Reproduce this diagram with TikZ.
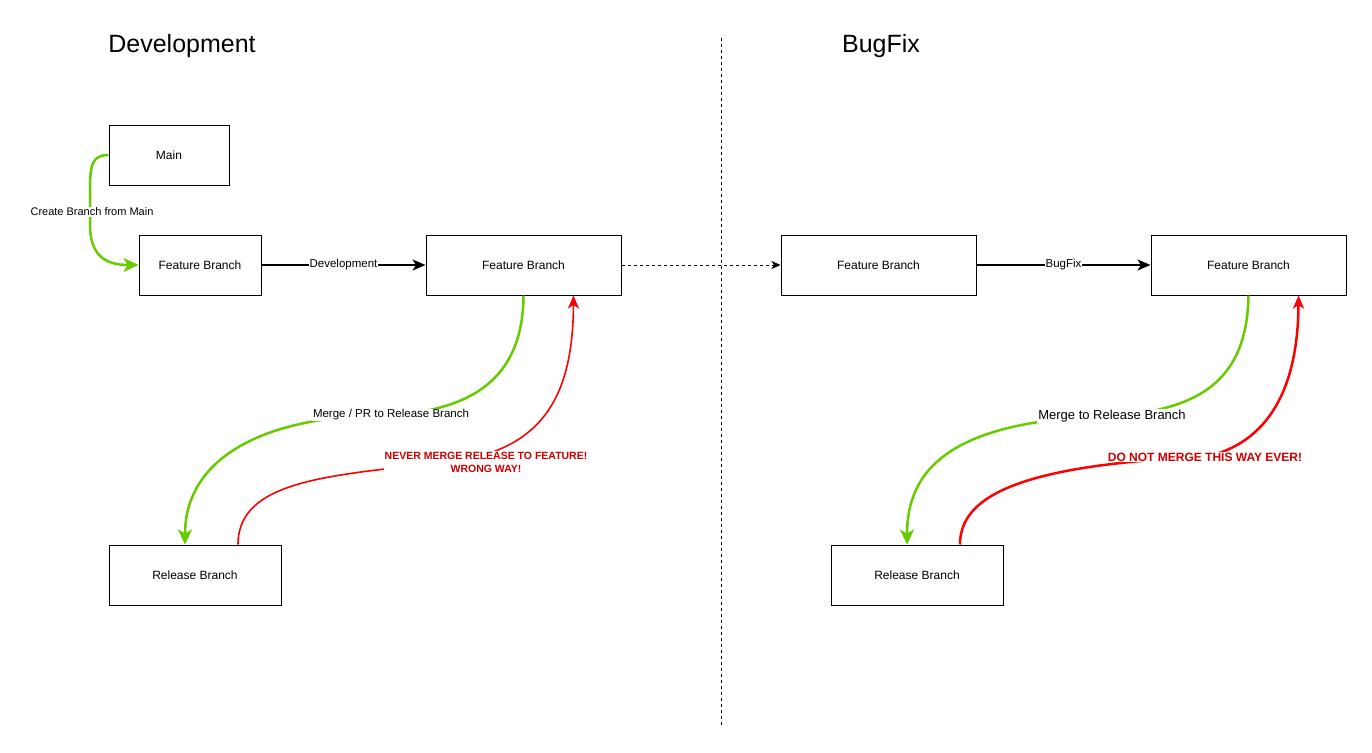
\documentclass[tikz,border=0pt]{standalone}
\usepackage{fontspec}
\setmainfont{Liberation Sans}
\usetikzlibrary{arrows.meta}

\definecolor{okgreen}{HTML}{66CC00}
\definecolor{badred}{HTML}{FF0000}
\definecolor{badtext}{HTML}{CC0000}

\begin{document}
\begin{tikzpicture}[x=1pt, y=-1pt]
    \tikzstyle{branch} = [shape=rectangle, draw, line width=1pt, minimum height=60pt,
                          inner sep=0pt, font=\fontsize{12}{14}\selectfont]
    \tikzstyle{title}  = [font=\fontsize{25}{29}\selectfont]
    \tikzstyle{lbl}    = [fill=white, inner sep=1pt, font=\fontsize{11.5}{13}\selectfont]
    \tikzstyle{warn}   = [fill=white, inner sep=1pt, text=badtext, align=center, font=\bfseries]
    \tikzstyle{good}   = [draw=okgreen, line width=2.5pt, -{Stealth[length=15pt, width=14pt, inset=4pt]}]
    \tikzstyle{bad}    = [draw=badred, -{Stealth[length=13pt, width=11pt, inset=3.5pt]}]
    \tikzstyle{flow}   = [line width=2pt, -{Stealth[length=13pt, width=11pt, inset=3.5pt]}]

    \useasboundingbox (0, 0) rectangle (1372, 752);

    % titles and separator
    \node[title] (devtitle) at (182, 46) {Development};
    \node[title] (fixtitle) at (881, 46) {BugFix};
    \coordinate (septop) at (721, 38);
    \coordinate (sepbot) at (721, 725);
    \draw[line width=0.8pt, dash pattern=on 3pt off 3pt] (septop) -- (sepbot);

    % development side
    \node[branch, minimum width=120pt] (main)  at (169, 155) {Main};
    \node[branch, minimum width=122pt] (feat1) at (200, 265) {Feature Branch};
    \node[branch, minimum width=195pt] (feat2) at (523.5, 265) {Feature Branch};
    \node[branch, minimum width=172pt] (rel1)  at (195, 575) {Release Branch};

    \draw[good] (main.west) .. controls (92, 155) and (90, 165) .. (90, 190)
        -- (90, 225) .. controls (90, 255) and (105, 265) .. (feat1.west);
    \node[lbl, font=\fontsize{11}{13}\selectfont] (createlbl) at (92, 212) {Create Branch from Main};

    \draw[flow] (feat1) -- node[lbl] {Development} (feat2);

    \draw[good] (feat2.south) .. controls (523, 380) and (470, 410) .. (391, 415)
        node[lbl] {Merge / PR to Release Branch}
        .. controls (260, 415) and (185, 460) .. ([xshift=-10pt]rel1.north);

    \draw[bad, line width=1.6pt] ([xshift=43pt]rel1.north) .. controls (238, 480) and (330, 475) .. (450, 462)
        .. controls (540, 450) and (573, 400) .. ([xshift=50pt]feat2.south);
    \node[warn, font=\bfseries\fontsize{10.5}{13}\selectfont] (neverlbl) at (486, 462)
        {NEVER MERGE RELEASE TO FEATURE!\\WRONG WAY!};

    % bugfix side
    \node[branch, minimum width=195pt] (feat3) at (878.5, 265) {Feature Branch};
    \node[branch, minimum width=195pt] (feat4) at (1248.5, 265) {Feature Branch};
    \node[branch, minimum width=172pt] (rel2)  at (917, 575) {Release Branch};

    \draw[line width=0.8pt, dash pattern=on 3pt off 3pt, -{Stealth[length=9pt, width=8pt, inset=2.5pt]}]
        (feat2) -- (feat3);

    \draw[flow] (feat3) -- node[lbl] {BugFix} (feat4);

    \draw[good] (feat4.south) .. controls (1247, 380) and (1200, 410) .. (1112, 416)
        node[lbl, font=\fontsize{13}{15}\selectfont] {Merge to Release Branch}
        .. controls (950, 420) and (907, 470) .. ([xshift=-10pt]rel2.north);

    \draw[bad, line width=2.5pt] ([xshift=43pt]rel2.north) .. controls (960, 500) and (1010, 465) .. (1205, 457)
        .. controls (1260, 445) and (1298, 400) .. ([xshift=50pt]feat4.south);
    \node[warn, font=\bfseries\fontsize{12}{14}\selectfont] (neverlbl2) at (1205, 457)
        {DO NOT MERGE THIS WAY EVER!};
\end{tikzpicture}
\end{document}
